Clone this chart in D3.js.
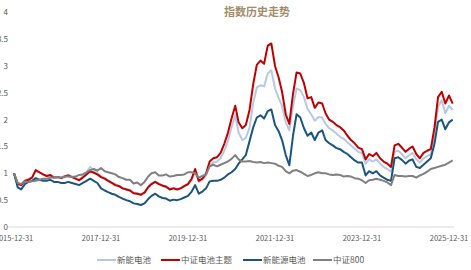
<!DOCTYPE html>
<html>
<head>
<meta charset="utf-8">
<script src="https://cdn.jsdelivr.net/npm/d3@7"></script>
<style>
  body { margin: 0; background: #fff; }
  text { font-family: "Noto Sans CJK SC", "Liberation Sans", sans-serif; }
</style>
</head>
<body>
<div id="chart"></div>
<script>
// month-end dates, 2015-12-31 .. 2026-01-31
const startDate = new Date(2015, 11, 31);
const nPoints = 122;

const xTicks = ["2015-12-31", "2017-12-31", "2019-12-31", "2021-12-31", "2023-12-31", "2025-12-31"];
const yTicks = [0, 0.5, 1, 1.5, 2, 2.5, 3, 3.5, 4];

const seriesNames = ["新能电池", "中证电池主题", "新能源电池", "中证800"];
const seriesColors = ["#b7c9e2", "#c00000", "#1b557e", "#808080"];

const xinneng = [
  1.00, 0.82, 0.79, 0.87, 0.89, 0.93, 1.04, 1.02, 0.98, 0.95, 0.96, 0.92,
  0.93, 0.92, 0.95, 0.97, 0.94, 0.91, 0.89, 0.94, 1.02, 1.12, 1.06, 1.00,
  0.95, 0.91, 0.87, 0.83, 0.80, 0.77, 0.73, 0.71, 0.69, 0.64, 0.63, 0.61,
  0.65, 0.75, 0.81, 0.85, 0.81, 0.78, 0.76, 0.71, 0.73, 0.71, 0.73, 0.77,
  0.80, 0.88, 1.02, 0.84, 0.88, 0.96, 1.16, 1.20, 1.22, 1.28, 1.42, 1.60,
  1.86, 2.08, 1.76, 1.62, 1.66, 1.85, 2.30, 2.60, 2.64, 2.62, 2.86, 2.92,
  2.58, 2.40, 2.25, 1.95, 1.80, 2.25, 2.58, 2.55, 2.42, 2.20, 2.10, 1.98,
  2.05, 2.04, 1.92, 1.84, 1.80, 1.74, 1.68, 1.64, 1.58, 1.52, 1.46, 1.40,
  1.38, 1.18, 1.26, 1.22, 1.26, 1.18, 1.12, 1.08, 1.03, 1.40, 1.42, 1.36,
  1.28, 1.34, 1.38, 1.26, 1.20, 1.28, 1.32, 1.35, 1.72, 2.24, 2.36, 2.12,
  2.26, 2.18
];

const zzdc = [
  1.00, 0.80, 0.78, 0.86, 0.88, 0.92, 1.06, 1.02, 0.98, 0.95, 0.97, 0.92,
  0.93, 0.91, 0.94, 0.96, 0.93, 0.90, 0.87, 0.92, 0.98, 1.04, 1.01, 0.98,
  0.93, 0.90, 0.86, 0.82, 0.78, 0.76, 0.72, 0.70, 0.68, 0.63, 0.62, 0.60,
  0.64, 0.74, 0.80, 0.84, 0.80, 0.77, 0.75, 0.70, 0.72, 0.70, 0.72, 0.76,
  0.80, 0.90, 1.08, 0.86, 0.90, 1.00, 1.22, 1.28, 1.30, 1.38, 1.55, 1.75,
  2.02, 2.26, 1.95, 1.84, 1.90, 2.18, 2.65, 3.02, 3.10, 3.04, 3.38, 3.42,
  3.00, 2.78, 2.52, 2.10, 1.92, 2.48, 2.88, 2.86, 2.68, 2.40, 2.42, 2.22,
  2.32, 2.30, 2.12, 2.00, 1.96, 1.90, 1.86, 1.80, 1.70, 1.62, 1.56, 1.48,
  1.45, 1.26, 1.36, 1.32, 1.38, 1.28, 1.22, 1.18, 1.12, 1.52, 1.55, 1.48,
  1.40, 1.46, 1.50, 1.36, 1.28, 1.38, 1.42, 1.45, 1.85, 2.42, 2.52, 2.30,
  2.45, 2.30
];

const xny = [
  1.00, 0.74, 0.70, 0.80, 0.84, 0.86, 0.91, 0.88, 0.86, 0.86, 0.88, 0.84,
  0.84, 0.82, 0.82, 0.84, 0.82, 0.80, 0.78, 0.82, 0.86, 0.90, 0.86, 0.82,
  0.72, 0.68, 0.65, 0.62, 0.60, 0.56, 0.53, 0.50, 0.48, 0.44, 0.43, 0.41,
  0.44, 0.52, 0.58, 0.62, 0.57, 0.54, 0.53, 0.49, 0.51, 0.50, 0.52, 0.55,
  0.58, 0.66, 0.78, 0.62, 0.66, 0.72, 0.85, 0.86, 0.86, 0.88, 0.92, 0.98,
  1.02, 1.08, 1.18, 1.26, 1.34, 1.60, 1.85, 2.04, 2.08, 2.02, 2.16, 2.19,
  1.90, 1.78, 1.62, 1.34, 1.15, 1.70, 2.10, 2.04, 1.84, 1.70, 1.76, 1.62,
  1.76, 1.80, 1.62, 1.56, 1.52, 1.47, 1.45, 1.40, 1.36, 1.30, 1.24, 1.20,
  1.20, 0.96, 1.04, 1.00, 1.04, 0.96, 0.92, 0.88, 0.86, 1.28, 1.30, 1.25,
  1.18, 1.24, 1.26, 1.12, 1.10, 1.16, 1.22, 1.28, 1.55, 1.96, 2.00, 1.82,
  1.95, 2.00
];

const zz800 = [
  1.00, 0.82, 0.80, 0.85, 0.84, 0.85, 0.86, 0.88, 0.90, 0.90, 0.92, 0.92,
  0.93, 0.92, 0.94, 0.94, 0.93, 0.94, 0.97, 0.98, 1.02, 1.06, 1.08, 1.05,
  1.10, 1.04, 1.02, 1.00, 0.98, 0.93, 0.91, 0.88, 0.88, 0.81, 0.83, 0.78,
  0.84, 0.94, 1.00, 1.02, 0.96, 0.96, 0.98, 0.94, 0.95, 0.97, 0.97, 0.98,
  1.02, 1.02, 1.00, 0.92, 0.95, 0.98, 1.13, 1.16, 1.13, 1.16, 1.19, 1.22,
  1.27, 1.34, 1.26, 1.22, 1.22, 1.23, 1.21, 1.20, 1.21, 1.19, 1.20, 1.19,
  1.18, 1.14, 1.12, 1.04, 1.00, 1.05, 1.06, 1.03, 0.99, 0.95, 0.97, 1.00,
  1.02, 1.00, 1.00, 0.98, 0.97, 0.98, 0.97, 0.94, 0.95, 0.94, 0.91, 0.90,
  0.87, 0.82, 0.87, 0.88, 0.90, 0.88, 0.86, 0.83, 0.78, 0.97, 0.95, 0.95,
  0.94, 0.95, 0.95, 0.92, 0.96, 0.99, 1.03, 1.08, 1.10, 1.12, 1.14, 1.16,
  1.20, 1.24
];

const allSeries = [xinneng, zzdc, xny, zz800];

const W = 471, H = 270;
const parse = d3.timeParse("%Y-%m-%d");
// month ends
const dates = d3.range(nPoints).map(i => d3.timeDay.offset(d3.timeMonth.offset(new Date(2016, 0, 1), i), -1));

const x = d3.scaleTime()
  .domain([parse(xTicks[0]), parse(xTicks[xTicks.length - 1])])
  .range([14, 449]);

const y = d3.scaleLinear()
  .domain([0, 4])
  .range([227, 12.3]);

const svg = d3.select("#chart")
  .append("svg")
  .attr("width", W)
  .attr("height", H);

// title
svg.append("text")
  .attr("x", 257)
  .attr("y", 16)
  .attr("text-anchor", "middle")
  .style("font-size", "11px")
  .style("font-weight", "bold")
  .attr("fill", "#a28c6b")
  .text("指数历史走势");

// baseline
svg.append("line")
  .attr("x1", 8).attr("x2", 454)
  .attr("y1", y(0)).attr("y2", y(0))
  .attr("stroke", "#d9d9d9")
  .attr("stroke-width", 1);

// y axis labels
svg.selectAll(".ylab")
  .data(yTicks).enter()
  .append("text")
  .attr("class", "ylab")
  .attr("x", 8)
  .attr("y", d => y(d) + 3)
  .attr("text-anchor", "end")
  .style("font-size", "8px")
  .attr("fill", "#595959")
  .text(d => String(d));

// x axis labels
svg.selectAll(".xlab")
  .data(xTicks).enter()
  .append("text")
  .attr("class", "xlab")
  .attr("x", d => x(parse(d)))
  .attr("y", 241)
  .attr("text-anchor", "middle")
  .style("font-size", "7.5px")
  .attr("fill", "#595959")
  .text(d => d);

const line = d3.line()
  .x((d, i) => x(dates[i]))
  .y(d => y(d));

allSeries.forEach((s, k) => {
  svg.append("path")
    .datum(s)
    .attr("fill", "none")
    .attr("stroke", seriesColors[k])
    .attr("stroke-width", 2)
    .attr("stroke-linejoin", "round")
    .attr("d", line);
});

// legend
const legendX = [97, 161, 243, 313];
const lg = svg.selectAll(".lg")
  .data(seriesNames).enter()
  .append("g")
  .attr("class", "lg")
  .attr("transform", (d, i) => "translate(" + legendX[i] + ",260)");

lg.append("line")
  .attr("x1", 0).attr("x2", 19)
  .attr("y1", 0).attr("y2", 0)
  .attr("stroke", (d, i) => seriesColors[i])
  .attr("stroke-width", 2);

lg.append("text")
  .attr("x", 20)
  .attr("y", 3)
  .style("font-size", "8.5px")
  .attr("fill", "#595959")
  .text(d => d);
</script>
</body>
</html>
